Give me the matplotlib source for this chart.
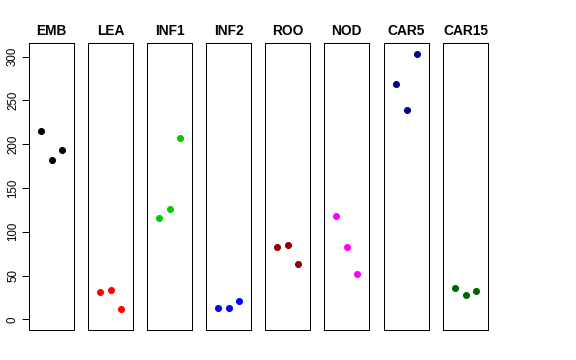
import matplotlib

matplotlib.use("Agg")
import matplotlib.pyplot as plt

plt.rcParams["font.family"] = ["Liberation Sans", "DejaVu Sans"]

# tissue groups, three replicates each
tissues = ["EMB", "LEA", "INF1", "INF2", "ROO", "NOD", "CAR5", "CAR15"]
colors = ["black", "#ff0000", "#00cd00", "#0000ff", "#8b0000", "#ff00ff", "#00008b", "#006400"]

emb = [215.6, 182.1, 193.5]
lea = [31.6, 33.1, 11.8]
inf1 = [115.2, 126.2, 207.2]
inf2 = [13.3, 13.3, 20.5]
roo = [82.5, 84.4, 63.5]
nod = [118.3, 82.9, 51.7]
car5 = [268.4, 238.8, 303.4]
car15 = [35.7, 27.4, 32.7]
values = [emb, lea, inf1, inf2, roo, nod, car5, car15]

replicate = [1, 2, 3]
yticks = [0, 50, 100, 150, 200, 250, 300]

W, H = 576, 360
fig = plt.figure(figsize=(W / 72, H / 72), dpi=72)

ymax = max(max(v) for v in values)
ypad = 0.04 * ymax
left_px = [29, 88, 147, 206, 265, 324, 384, 443]
panel_w, top_px, bottom_px = 45, 43, 330

for i, (name, col, vals) in enumerate(zip(tissues, colors, values)):
    ax = fig.add_axes([left_px[i] / W, 1 - bottom_px / H,
                       panel_w / W, (bottom_px - top_px) / H])
    ax.plot(replicate, vals, "o", color=col, ms=6, mec=col)
    ax.set_xlim(-0.16, 4.16)
    ax.set_ylim(-ypad, ymax + ypad)
    ax.set_xticks([])
    ax.set_title(name, fontsize=13.8, fontweight="bold", pad=8)
    for s in ax.spines.values():
        s.set_linewidth(1)
        s.set_color("black")
    if i == 0:
        ax.set_yticks(yticks)
        ax.set_yticklabels([str(t) for t in yticks], rotation=90, va="center", fontsize=11.5)
        ax.tick_params(axis="y", length=7, width=1, pad=3)
    else:
        ax.set_yticks([])

fig.savefig("out.png", dpi=72)
